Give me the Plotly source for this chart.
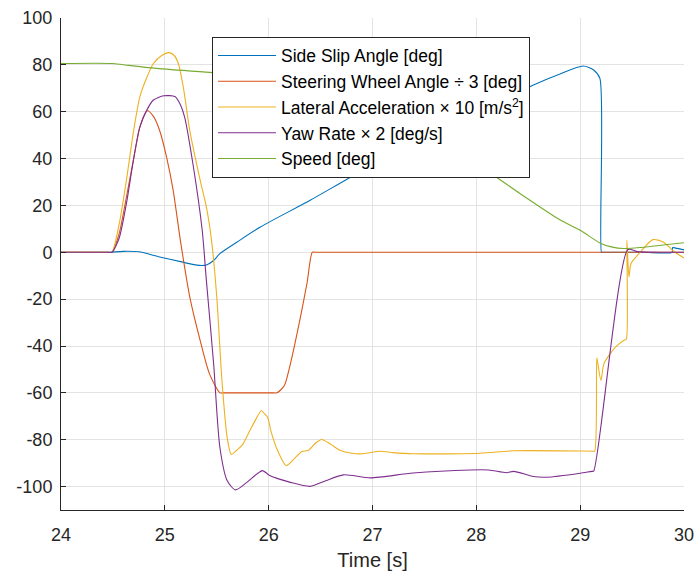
import plotly.graph_objects as go

# ---- data ----
t_slip = [24.0, 24.3, 24.45, 24.6, 24.75, 24.95, 25.15, 25.31, 25.40, 25.47, 25.53, 25.7,
          25.92, 26.4, 26.88, 27.5, 28.0, 28.3, 28.55, 28.8, 29.03, 29.13, 29.19, 29.205,
          29.215, 29.25, 29.6, 29.885, 29.89, 29.9, 30.0]
v_slip = [0, 0, 0, 0.4, 0.2, -2, -4, -5.5, -5.4, -3.5, -0.6, 4.5,
          10.8, 22.2, 34.3, 48, 59.2, 65.8, 71.4, 76, 79.5, 77.8, 74.2, 0,
          0, 0, 0, 0, 2.0, 2.0, 1.0]

t_steer = [24.0, 24.3, 24.45, 24.49, 24.56, 24.63, 24.70, 24.76, 24.83, 24.89, 24.95, 25.02,
           25.08, 25.15, 25.24, 25.34, 25.43, 25.53, 25.56, 26.05, 26.08, 26.15, 26.21, 26.30,
           26.37, 26.42, 26.45, 30.0]
v_steer = [0, 0, 0, 0, 8, 23.6, 40, 53.5, 60.4, 58, 52, 40,
           26.5, 5, -19, -37.6, -51.9, -60, -60, -60, -60, -57, -47.5, -29,
           -13, 0, 0, 0]

t_lat = [24.0, 24.3, 24.45, 24.49, 24.56, 24.63, 24.70, 24.76, 24.83, 24.89, 24.97, 25.04,
         25.09, 25.13, 25.18, 25.24, 25.34, 25.40, 25.45, 25.50, 25.55, 25.60, 25.64, 25.68,
         25.70, 25.75, 25.82, 25.88, 25.93, 25.96, 25.99, 26.02, 26.08, 26.17, 26.25, 26.32,
         26.38, 26.45, 26.51, 26.60, 26.69, 26.80, 26.91, 27.07, 27.20, 27.39, 28.04, 28.36,
         29.12, 29.14, 29.16, 29.17, 29.20, 29.23, 29.34, 29.43, 29.445, 29.45, 29.47, 29.49,
         29.58, 29.70, 29.80, 29.91, 30.0]
v_lat = [0, 0, 0, 0, 12, 30.8, 52, 66.4, 75, 80.6, 84, 85.2,
         84, 80.6, 70, 52, 30.8, 19.4, 5, -19, -54.7, -79, -86.3, -85,
         -84.2, -82, -76, -71, -67.5, -69, -70.4, -76, -84, -91, -88, -85,
         -84.6, -81.5, -79.9, -82, -84.6, -85.8, -86, -84.9, -85.5, -86, -85.8, -84.7,
         -84.9, -84.9, -45, -47.5, -54.7, -47.4, -40.5, -37.3, -37, 5.1, -10.5, -4.8,
         0.1, 5.4, 4.4, 0.1, -2.4]

t_yaw = [24.0, 24.3, 24.45, 24.49, 24.56, 24.63, 24.70, 24.76, 24.83, 24.89, 24.99, 25.10,
         25.15, 25.19, 25.27, 25.36, 25.40, 25.47, 25.53, 25.60, 25.68, 25.79, 25.94, 26.01,
         26.21, 26.40, 26.55, 26.72, 26.98, 27.39, 27.94, 28.12, 28.29, 28.36, 28.55, 28.68,
         29.0, 29.11, 29.13, 29.46, 29.55, 30.0]
v_yaw = [0, 0, 0, 0, 6, 20.8, 40, 53.5, 61, 65, 66.8, 66.4,
         63, 57.8, 37.9, 9.4, -12, -47.6, -83.2, -97.4, -101.4, -98.2, -93.2, -95.3,
         -98.2, -99.9, -97.5, -95, -96.3, -94.2, -92.9, -92.9, -94.1, -93.5, -95.7, -96,
         -94.3, -93.5, -93.4, 1.2, 0.3, 0]

t_speed = [24.0, 24.5, 24.65, 24.92, 25.43, 26.0, 26.5, 27.0, 27.5, 28.0, 28.42, 28.8,
           29.0, 29.19, 29.30, 29.42, 30.0]
v_speed = [80.6, 80.6, 79.8, 78.5, 76.8, 75, 71.5, 64, 52, 37.9, 25.1, 14,
           9.4, 4.0, 2.3, 1.6, 4.1]

names = ["Side Slip Angle [deg]",
         "Steering Wheel Angle \u00f7 3 [deg]",
         "Lateral Acceleration \u00d7 10 [m/s<sup>2</sup>]",
         "Yaw Rate \u00d7 2 [deg/s]",
         "Speed [deg]"]
colors = ["#0072BD", "#D95319", "#EDB120", "#7E2F8E", "#77AC30"]

x_ticks = [24, 25, 26, 27, 28, 29, 30]
y_ticks = [-100, -80, -60, -40, -20, 0, 20, 40, 60, 80, 100]

series = [(t_slip, v_slip), (t_steer, v_steer), (t_lat, v_lat), (t_yaw, v_yaw), (t_speed, v_speed)]

fig = go.Figure()
for i, ((tx, vy), nm, c) in enumerate(zip(series, names, colors)):
    fig.add_trace(go.Scatter(x=tx, y=vy, mode="lines", name=nm,
                             line=dict(color=c, width=1.1, shape="spline", smoothing=0.7),
                             legendgroup=f"g{i}"))

FONT = "Liberation Sans, Arial, Helvetica, sans-serif"
axcol = "#262626"
fig.update_layout(
    width=698, height=572,
    margin=dict(l=61, r=14, t=18, b=62),
    paper_bgcolor="white", plot_bgcolor="white",
    font=dict(family=FONT, size=18, color=axcol),
    legend=dict(x=0.2424, y=0.962, xanchor="left", yanchor="top",
                bgcolor="white", bordercolor=axcol, borderwidth=1,
                font=dict(family=FONT, size=17.5, color="#000000"),
                itemwidth=58, tracegroupgap=0, traceorder="normal"),
    showlegend=True,
)
fig.update_xaxes(range=[24, 30], tickvals=x_ticks, ticktext=[str(v) for v in x_ticks],
                 showgrid=True, gridcolor="#E3E3E3", gridwidth=1, automargin=False,
                 showline=True, linecolor=axcol, linewidth=1,
                 ticks="inside", ticklen=5, tickcolor=axcol, zeroline=False,
                 ticklabelstandoff=8,
                 title=dict(text="Time [s]", font=dict(size=20), standoff=9),
                 tickfont=dict(size=18))
fig.update_yaxes(range=[-110, 100], tickvals=y_ticks, ticktext=[str(v) for v in y_ticks],
                 showgrid=True, gridcolor="#E3E3E3", gridwidth=1, automargin=False,
                 showline=True, linecolor=axcol, linewidth=1,
                 ticks="inside", ticklen=5, tickcolor=axcol, zeroline=False,
                 ticklabelstandoff=4,
                 tickfont=dict(size=18))

fig.write_html("out.html", config={"displayModeBar": False},
               post_script="document.body.style.margin='0';")
